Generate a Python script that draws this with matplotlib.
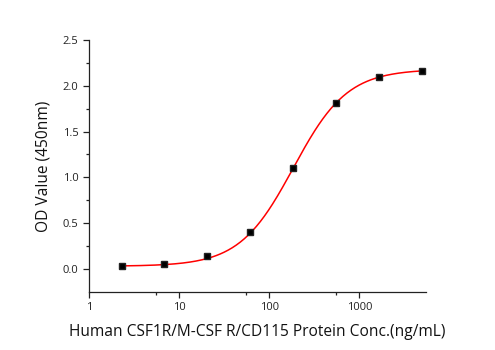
import numpy as np
import matplotlib
matplotlib.use('Agg')
from matplotlib import pyplot as plt
from matplotlib.ticker import FixedLocator, NullFormatter

plt.rcParams['font.family'] = ['Open Sans', 'DejaVu Sans']

# Measured points (3-fold dilution series)
conc = [2.29, 6.86, 20.58, 61.7, 185.2, 555.6, 1666.7, 5000]
od = [0.028, 0.05, 0.146, 0.40, 1.10, 1.81, 2.09, 2.16]

# 4PL fit parameters
bottom = 0.03
top = 2.18
ec50 = 185.0
hill = 1.45

x_ticks = [1, 10, 100, 1000]
x_tick_labels = ['1', '10', '100', '1000']
x_minor = [5.5, 55, 550]
y_ticks = [0.0, 0.5, 1.0, 1.5, 2.0, 2.5]

fig = plt.figure(figsize=(4.95, 3.5), dpi=100)
ax = fig.add_axes([0.180, 0.166, 0.681, 0.720])

xs = np.logspace(np.log10(conc[0]), np.log10(conc[-1]), 300)
ys = bottom + (top - bottom) / (1 + (ec50 / xs) ** hill)
ax.plot(xs, ys, color='red', lw=1.1)
ax.plot(conc, od, 's', color='black', ms=3.8, mec='#222222')

ax.set_xscale('log')
ax.set_xlim(1, 5500)
ax.set_ylim(-0.25, 2.5)
ax.xaxis.set_major_locator(FixedLocator(x_ticks))
ax.set_xticklabels(x_tick_labels)
ax.xaxis.set_minor_locator(FixedLocator(x_minor))
ax.xaxis.set_minor_formatter(NullFormatter())
ax.set_yticks(y_ticks)
ax.set_yticklabels(['%.1f' % v for v in y_ticks])
ax.yaxis.set_minor_locator(FixedLocator([0.25, 0.75, 1.25, 1.75, 2.25]))

for s in ['top', 'right']:
    ax.spines[s].set_visible(False)
for s in ['left', 'bottom']:
    ax.spines[s].set_linewidth(0.9)
    ax.spines[s].set_color('#222222')

ax.tick_params(which='major', length=4, width=0.9, colors='#222222',
               labelsize=8, labelcolor='#222222')
ax.tick_params(which='minor', length=2.5, width=0.9, colors='#222222')

ax.set_xlabel('Human CSF1R/M-CSF R/CD115 Protein Conc.(ng/mL)', fontsize=11.2,
              color='#111111', labelpad=8)
ax.set_ylabel('OD Value (450nm)', fontsize=11.2, color='#111111', labelpad=8)

plt.savefig('out.png', dpi=100)
